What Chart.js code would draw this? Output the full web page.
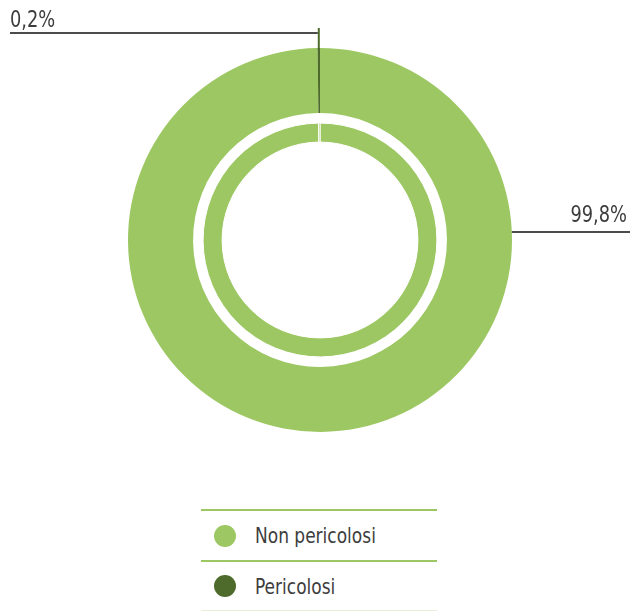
<!DOCTYPE html>
<html lang="it">
<head>
  <meta charset="UTF-8" />
  <title>Rifiuti</title>
  <script src="https://cdn.jsdelivr.net/npm/chart.js"></script>
  <style>
    * {
      margin: 0;
      padding: 0;
      box-sizing: border-box;
    }

    body {
      width: 632px;
      height: 612px;
      background: #fff;
      font-family: 'DejaVu Sans Condensed', 'DejaVu Sans', sans-serif;
      color: #3d3d3d;
      position: relative;
      overflow: hidden;
    }

    .chart-box {
      position: absolute;
      left: 0;
      top: 0;
      width: 632px;
      height: 480px;
    }

    .legend {
      position: absolute;
      left: 201px;
      top: 509px;
      width: 236px;
    }

    .legend .row {
      height: 51px;
      border-top: 2px solid #9dc763;
      display: flex;
      align-items: center;
      font-size: 22px;
    }

    .legend .row:last-child {
      border-bottom: 1px solid #e6efda;
    }

    .legend .dot {
      flex: none;
      width: 22px;
      height: 22px;
      border-radius: 50%;
      margin-left: 13px;
      margin-right: 19px;
    }

    .legend .txt {
      display: inline-block;
      transform: scaleX(0.86);
      transform-origin: left center;
      white-space: nowrap;
    }
  </style>
</head>
<body>
  <div class="chart-box">
    <canvas id="wasteChart"></canvas>
  </div>
  <div class="legend" id="legend"></div>

  <script>
    const categories = ['Non pericolosi', 'Pericolosi'];
    const values = [99.8, 0.2];
    const colors = ['#9dc763', '#4f6b2b'];

    const fmt = v => v.toFixed(1).replace('.', ',') + '%';

    // legend rows with the green rules between them
    const legend = document.getElementById('legend');
    categories.forEach((c, i) => {
      const row = document.createElement('div');
      row.className = 'row';
      row.innerHTML = '<span class="dot" style="background:' + colors[i] + '"></span><span class="txt">' + c + '</span>';
      legend.appendChild(row);
    });

    // narrow text drawn on the canvas
    function narrowText(ctx, text, x, y, align) {
      ctx.save();
      ctx.translate(x, y);
      ctx.scale(0.86, 1);
      ctx.textAlign = align;
      ctx.fillText(text, 0, 0);
      ctx.restore();
    }

    // leader lines and value labels for the outer ring
    const leaders = {
      id: 'leaders',
      afterDraw(chart) {
        const ctx = chart.ctx;
        const arcs = chart.getDatasetMeta(0).data;
        const big = arcs[0], small = arcs[1];
        ctx.save();
        ctx.font = '23px "DejaVu Sans Condensed", "DejaVu Sans", sans-serif';
        ctx.fillStyle = '#3d3d3d';

        // small slice: vertical stub up from the ring, then line to the left
        const a = (small.startAngle + small.endAngle) / 2;
        const sx = small.x + Math.cos(a) * small.outerRadius;
        const sy = small.y + Math.sin(a) * small.outerRadius;
        ctx.strokeStyle = colors[1];
        ctx.lineWidth = 2;
        ctx.beginPath();
        ctx.moveTo(sx, sy + 2);
        ctx.lineTo(sx, 28);
        ctx.stroke();
        ctx.strokeStyle = '#111';
        ctx.lineWidth = 1.5;
        ctx.beginPath();
        ctx.moveTo(10, 33);
        ctx.lineTo(sx - 1, 33);
        ctx.stroke();
        narrowText(ctx, fmt(values[1]), 10, 27, 'left');

        // big slice: horizontal line to the right edge
        const ly = 232;
        const dy = ly - big.y;
        const bx = big.x + Math.sqrt(big.outerRadius * big.outerRadius - dy * dy);
        ctx.beginPath();
        ctx.moveTo(bx, ly);
        ctx.lineTo(630, ly);
        ctx.stroke();
        narrowText(ctx, fmt(values[0]), 627, 222, 'right');
        ctx.restore();
      }
    };

    new Chart(document.getElementById('wasteChart'), {
      type: 'doughnut',
      data: {
        labels: categories,
        datasets: [
          {
            data: values,
            backgroundColor: colors,
            borderWidth: 0,
            weight: 65
          },
          {
            // blank band between the two rings
            data: [1],
            backgroundColor: 'rgba(0,0,0,0)',
            borderWidth: 0,
            weight: 10
          },
          {
            data: values,
            backgroundColor: [colors[0], colors[0]],
            borderColor: '#fff',
            borderWidth: 1,
            weight: 19
          }
        ]
      },
      options: {
        responsive: true,
        maintainAspectRatio: false,
        animation: false,
        cutout: '51%',
        layout: { padding: { top: 48, bottom: 48, left: 8, right: 0 } },
        plugins: {
          legend: { display: false },
          tooltip: { enabled: false }
        }
      },
      plugins: [leaders]
    });
  </script>
</body>
</html>
